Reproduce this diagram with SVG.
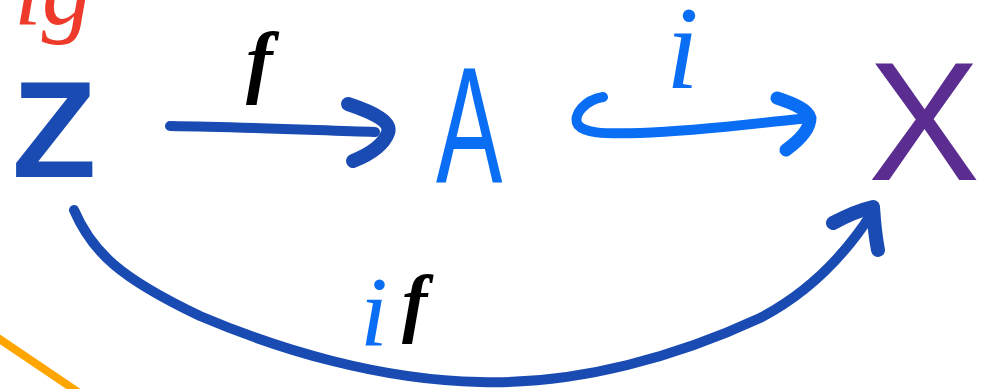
<svg xmlns="http://www.w3.org/2000/svg" width="989" height="389" viewBox="0 0 989 389">
  <style>
    .hand { font-family: "Liberation Sans", "DejaVu Sans", sans-serif; }
    .lbl { font-family: "Liberation Serif", "DejaVu Serif", serif; font-style: italic; }
    .conn { fill: none; stroke-linecap: round; stroke-linejoin: round; }
    .dark { stroke: #1a4bb3; }
    .bright { stroke: #0a6ef5; }
  </style>
  <rect width="989" height="389" fill="#ffffff"/>

  <!-- stray marks cut off at the edges -->
  <text class="lbl" x="14" y="24" font-size="100" fill="#ee3a2a">ig</text>
  <line x1="-5" y1="336" x2="78" y2="392" stroke="#ffa500" stroke-width="8"/>

  <g id="node-Z">
    <text class="hand" x="12" y="177" font-size="138" font-weight="bold" fill="#1a4bb3">Z</text>
  </g>
  <g id="node-A">
    <text class="hand" x="0" y="0" font-size="166" fill="#0a6ef5" transform="translate(436,182) scale(0.6,1)">A</text>
  </g>
  <g id="node-X">
    <text class="hand" x="868" y="180" font-size="168" fill="#5b2d91">X</text>
  </g>

  <g id="connectors">
    <!-- f : Z -> A -->
    <path class="conn dark" stroke-width="10" d="M170,126 C240,127 310,130 375,132"/>
    <path class="conn dark" stroke-width="14" d="M348,104 C375,113 392,122 388,133 C383,146 368,155 353,161"/>
    <!-- i : A -> X (hooked inclusion) -->
    <path class="conn bright" stroke-width="10" d="M603,97 C585,100 572,115 578,125 C585,133 600,134 640,133 C700,131 760,123 808,118"/>
    <path class="conn bright" stroke-width="13" d="M777,98 C795,104 808,110 810,118 C810,130 797,142 786,150"/>
    <!-- if : Z -> X -->
    <path class="conn dark" stroke-width="10" d="M74,210 C92,252 120,278 200,316 C280,350 380,380 480,382 C580,385 680,355 760,318 C810,292 845,255 872,213"/>
    <path class="conn dark" stroke-width="14" d="M833,223 C848,215 860,210 873,207 C874,222 875,235 878,250"/>
  </g>

  <g id="labels">
    <text class="lbl" x="246" y="88" font-size="80" font-weight="bold" fill="#000000">f</text>
    <text class="lbl" x="666" y="88" font-size="118" fill="#0a6ef5">i</text>
    <text class="lbl" x="360" y="345" font-size="100" fill="#0a6ef5">i</text>
    <text class="lbl" x="402" y="328" font-size="76" font-weight="bold" fill="#000000">f</text>
  </g>
</svg>
